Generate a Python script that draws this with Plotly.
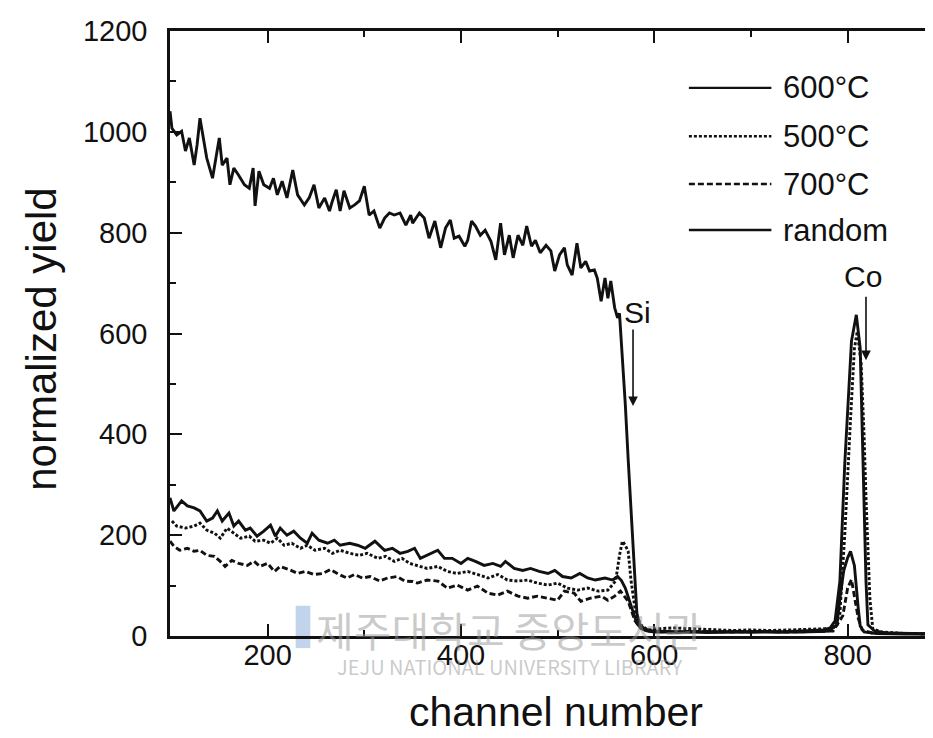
import plotly.graph_objects as go

# ---------------- data ----------------
random_ch = [99,101,106,111,115,119,124,127,130,134,137,143,146,150,153,158,161,165,170,176,
             181,185,187,191,196,202,206,210,215,220,226,231,238,243,248,253,259,264,267,271,
             275,279,285,290,295,300,305,310,316,321,326,331,337,343,348,350,357,362,367,373,
             379,384,389,393,398,404,407,411,415,420,425,431,436,441,445,450,454,459,464,468,
             473,477,482,488,493,497,502,507,510,515,520,524,529,533,538,541,545,549,552,555,
             559,562,564,567,570,573,576,579,582,585,590,598,
             610,625,640,655,670,685,700,715,730,745,760,775,782,787,792,797,804,809,813,816,
             819,821,828,840,860,880,897]
random_y = [1041,1007,994,1001,962,988,934,974,1027,982,948,908,942,988,934,948,895,928,914,895,
            888,928,853,922,895,888,908,875,902,869,924,875,855,869,895,849,869,843,863,885,
            843,883,849,855,863,892,835,843,809,829,839,835,839,815,835,819,839,829,789,823,
            770,809,825,789,793,773,785,823,813,795,805,783,746,819,756,795,750,795,775,813,
            773,785,760,775,764,724,756,770,736,716,779,730,743,724,726,710,664,710,670,704,
            651,631,640,560,460,350,240,130,45,22,14,10,
            9,8,9,7,8,9,8,9,8,9,10,12,16,30,109,340,585,637,571,340,
            109,22,10,6,5,4,4]

t600_ch = [99,103,111,117,124,130,137,143,148,153,160,165,170,177,182,189,196,203,208,213,
           220,227,234,241,246,253,262,269,275,285,293,301,311,321,329,337,345,352,358,365,
           376,383,391,400,407,415,424,433,441,446,455,464,472,481,490,497,505,514,523,531,
           539,549,557,562,566,570,574,578,582,586,592,600,
           615,630,650,670,690,710,730,750,770,780,789,792,796,800,803,807,811,813,817,830,860,897]
t600_y = [274,248,268,258,254,248,228,234,248,228,244,218,228,210,214,198,208,220,198,214,
          200,208,194,184,204,190,184,190,180,184,180,174,188,170,174,164,168,174,154,160,
          170,154,154,144,154,148,140,144,138,148,134,130,134,128,124,130,118,115,124,115,
          111,115,111,118,110,95,70,45,25,15,10,8,
          8,7,8,7,8,7,8,8,9,10,22,75,130,155,168,140,55,20,8,5,4,4]

t500_ch = [101,106,115,124,130,137,145,151,158,165,172,181,187,196,203,210,217,225,234,241,
           249,259,267,275,285,295,303,314,322,331,339,347,355,365,376,386,396,407,417,428,
           438,448,459,469,479,490,500,510,521,531,542,552,560,564,567,570,573,576,581,586,
           593,600,620,640,660,680,700,720,740,760,775,785,792,797,803,807,810,814,817,819,
           823,826,835,860,897]
t500_y = [228,218,214,218,224,210,204,194,214,204,194,198,188,190,184,194,180,184,174,180,
          170,174,164,170,164,160,164,154,158,148,154,144,140,134,138,128,124,128,122,115,
          122,111,109,111,105,101,105,95,91,95,89,91,109,160,188,180,168,109,42,22,
          12,14,16,14,12,11,12,11,12,13,14,15,45,200,430,570,604,540,400,274,
          75,14,8,5,4]

t700_ch = [99,103,109,117,124,130,137,145,151,156,163,170,179,186,192,200,207,213,222,231,
           239,248,257,265,274,282,290,298,306,316,324,334,342,350,355,365,376,386,396,407,
           417,428,438,448,459,469,479,490,500,507,517,524,534,545,552,559,565,573,580,586,
           593,600,620,650,680,710,740,770,785,795,800,804,807,811,815,825,860,897]
t700_y = [188,178,170,174,168,170,160,158,148,138,150,144,140,148,138,144,128,138,132,124,
          128,122,124,132,122,115,122,115,118,109,115,118,109,108,105,111,109,95,101,91,
          99,85,81,89,79,75,79,75,71,89,85,69,75,79,71,79,89,69,30,16,
          10,9,8,9,8,9,8,9,10,40,95,112,80,35,12,6,5,4]

legend_labels = ["600°C", "500°C", "700°C", "random"]
x_ticks = [200, 400, 600, 800]
y_ticks = [0, 200, 400, 600, 800, 1000, 1200]

# ---------------- figure ----------------
FONT = "Liberation Sans, Arial, sans-serif"
BLACK = "#111111"

series = [
    (t600_ch, t600_y, "solid"),
    (t500_ch, t500_y, "3px,2px"),
    (t700_ch, t700_y, "6px,3px"),
    (random_ch, random_y, "solid"),
]

fig = go.Figure()

# faint library watermark (drawn first so it sits behind)
WM = "rgba(150,150,150,0.5)"
fig.add_shape(type="rect", xref="paper", yref="paper", x0=0.163, x1=0.182, y0=-0.02, y1=0.05,
              line=dict(width=0), fillcolor="rgba(120,160,210,0.45)", layer="below")
fig.add_annotation(xref="paper", yref="paper", x=0.44, y=0.012, text="제주대학교 중앙도서관",
                   showarrow=False, xanchor="center", yanchor="middle",
                   font=dict(family="Noto Sans CJK KR", size=41, color=WM))
fig.add_annotation(xref="paper", yref="paper", x=0.44, y=-0.050,
                   text="JEJU NATIONAL UNIVERSITY LIBRARY", showarrow=False,
                   xanchor="center", yanchor="middle",
                   font=dict(family="Noto Sans CJK KR", size=20, color=WM))

for (xs, ys, dash), name in zip(series, legend_labels):
    fig.add_trace(go.Scatter(x=xs, y=ys, mode="lines", name=name,
                             line=dict(color=BLACK, width=2.9, dash=dash),
                             showlegend=False))

# manual legend (long line samples like the original)
L0, L1, TX = 0.673, 0.780, 0.792
rows = [0.906, 0.826, 0.747, 0.671]
for (xs, ys, dash), name, ry in zip(series, legend_labels, rows):
    fig.add_shape(type="line", xref="paper", yref="paper", x0=L0, x1=L1, y0=ry, y1=ry,
                  line=dict(color=BLACK, width=2.4, dash=dash))
    fig.add_annotation(xref="paper", yref="paper", x=TX, y=ry, text=name, showarrow=False,
                       xanchor="left", yanchor="middle",
                       font=dict(family=FONT, size=31, color=BLACK))

# Si and Co markers
fig.add_annotation(x=578, y=456, ax=578, ay=611, xref="x", yref="y", axref="x", ayref="y",
                   showarrow=True, arrowhead=2, arrowsize=1.2, arrowwidth=1.6,
                   arrowcolor=BLACK, text="")
fig.add_annotation(x=583, y=641, text="Si", showarrow=False,
                   font=dict(family=FONT, size=30, color=BLACK))
fig.add_annotation(x=819, y=547, ax=819, ay=676, xref="x", yref="y", axref="x", ayref="y",
                   showarrow=True, arrowhead=2, arrowsize=1.2, arrowwidth=1.6,
                   arrowcolor=BLACK, text="")
fig.add_annotation(x=816, y=714, text="Co", showarrow=False,
                   font=dict(family=FONT, size=30, color=BLACK))

# axis titles as annotations (exact placement)
fig.add_annotation(xref="paper", yref="paper", x=0.5, y=-0.126, text="channel number",
                   showarrow=False, xanchor="center", yanchor="middle",
                   font=dict(family=FONT, size=41, color=BLACK))
fig.add_annotation(xref="paper", yref="paper", x=-0.167, y=0.49, text="normalized yield",
                   showarrow=False, xanchor="center", yanchor="middle", textangle=-90,
                   font=dict(family=FONT, size=42, color=BLACK))

axis_common = dict(showgrid=False, zeroline=False, ticks="inside", tickcolor=BLACK,
                   tickwidth=2, ticklen=12, linecolor=BLACK, linewidth=2.5,
                   tickfont=dict(family=FONT, size=29, color=BLACK))

fig.update_layout(
    width=933, height=738,
    margin=dict(l=162, r=0, t=23, b=110),
    paper_bgcolor="white", plot_bgcolor="white",
    xaxis=dict(range=[99, 896.6], tickvals=x_ticks, showline=True, mirror="ticks",
               minor=dict(dtick=100, tick0=100, ticks="inside", ticklen=6, tickwidth=1.5,
                          tickcolor=BLACK),
               ticklabelstandoff=-9,
               **axis_common),
    yaxis=dict(range=[0, 1200], tickvals=y_ticks, showline=True, mirror=False,
               minor=dict(dtick=100, tick0=0, ticks="inside", ticklen=6, tickwidth=1.5,
                          tickcolor=BLACK),
               ticklabelstandoff=14,
               **axis_common),
    yaxis2=dict(range=[0, 1200], overlaying="y", side="right", showline=False,
                showticklabels=False, showgrid=False, zeroline=False,
                tickvals=y_ticks, ticks="inside", ticklen=9, tickwidth=2, tickcolor=BLACK,
                minor=dict(dtick=100, tick0=0, ticks="inside", ticklen=5, tickwidth=1.5,
                           tickcolor=BLACK)),
)

fig.write_html("out.html")
